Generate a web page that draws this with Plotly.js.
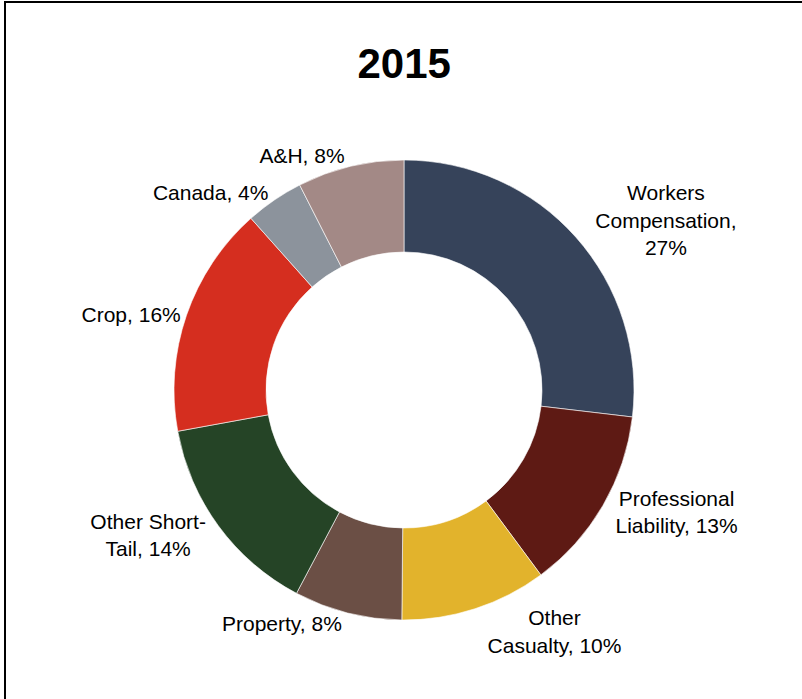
<!DOCTYPE html>
<html>
<head>
<meta charset="utf-8">
<script src="https://cdn.plot.ly/plotly-3.0.1.min.js"></script>
<style>
  html, body { margin: 0; padding: 0; background: #fff; overflow: hidden; }
  #chart { width: 802px; height: 699px; position: absolute; left: 0; top: 0; }
  #frame { position: absolute; left: 4px; top: 1px; width: 1000px; height: 1000px;
           border-left: 2px solid #000; border-top: 2px solid #000; pointer-events: none; }
</style>
</head>
<body>
<div id="chart"></div>
<div id="frame"></div>
<script>
// Categories (clockwise from 12 o'clock)
const categories = ["Workers Compensation", "Professional Liability", "Other Casualty", "Property",
                    "Other Short-Tail", "Crop", "Canada", "A&H"];
// Share of total (%)
const shares = [26.9, 13.0, 10.3, 7.6, 14.4, 16.3, 4.1, 7.5];
// Data labels as printed
const dataLabels = ["Workers<br>Compensation,<br>27%", "Professional<br>Liability, 13%",
                    "Other<br>Casualty, 10%", "Property, 8%", "Other Short-<br>Tail, 14%",
                    "Crop, 16%", "Canada, 4%", "A&H, 8%"];
const sliceColors = ["#36435A", "#5E1A14", "#E2B32C", "#6B4F45", "#254426", "#D52E1F", "#8C939C", "#A38986"];

const W = 802, H = 699, cx = 404, cy = 390, R = 230;

const trace = {
  type: "pie",
  labels: categories,
  values: shares,
  text: dataLabels,
  textinfo: "text",
  textposition: "outside",
  hole: 0.6,
  sort: false,
  direction: "clockwise",
  rotation: 0,
  marker: { colors: sliceColors, line: { color: "#ffffff", width: 0.6 } },
  outsidetextfont: { family: "Liberation Sans, Arial, sans-serif", size: 21, color: "#000" },
  automargin: false,
  domain: { x: [(cx - R) / W, (cx + R) / W], y: [(H - cy - R) / H, (H - cy + R) / H] },
  showlegend: false
};

const layout = {
  width: W, height: H,
  margin: { l: 0, r: 0, t: 0, b: 0 },
  paper_bgcolor: "#ffffff",
  title: {
    text: "<b>2015</b>",
    font: { family: "Liberation Sans, Arial, sans-serif", size: 42, color: "#000" },
    x: 0.504, xanchor: "center", y: 0.91, yanchor: "middle"
  },
  showlegend: false
};

Plotly.newPlot("chart", [trace], layout, { staticPlot: true, displayModeBar: false });
</script>
</body>
</html>
